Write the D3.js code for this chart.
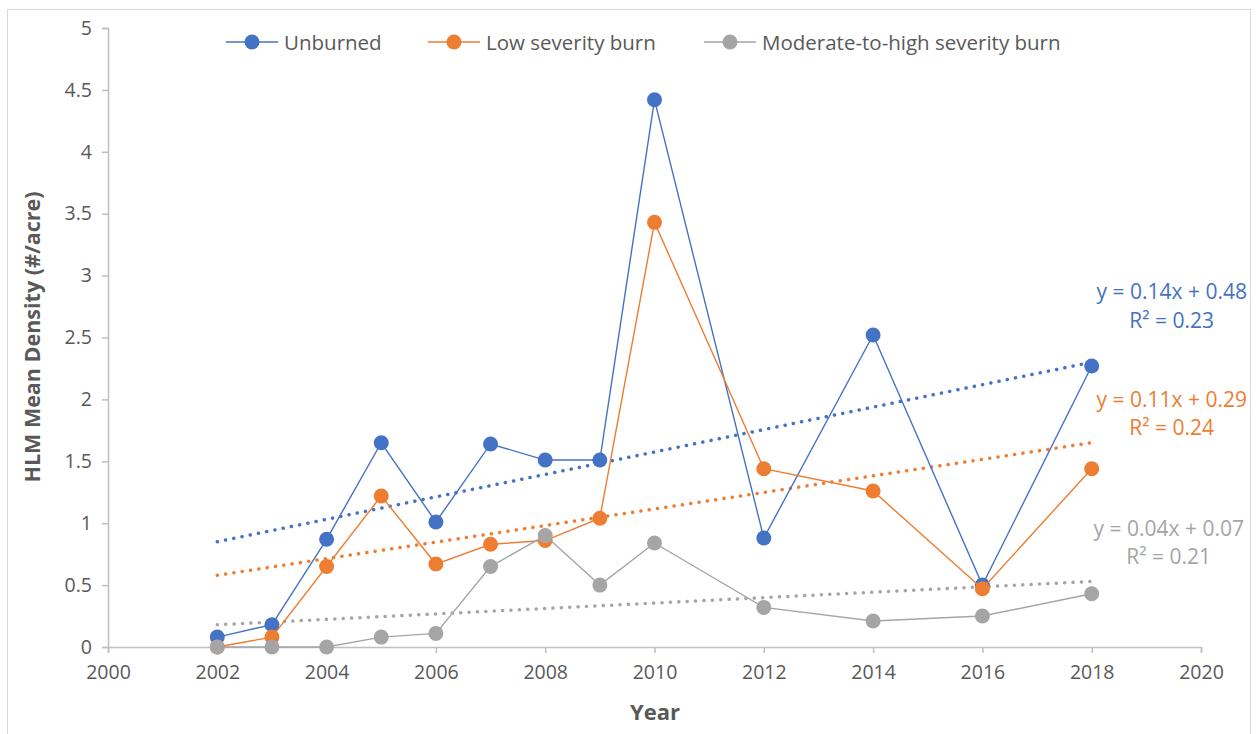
<!DOCTYPE html>
<html><head><meta charset="utf-8">
<script src="https://cdn.jsdelivr.net/npm/d3@7"></script>
<style>body{margin:0;background:#fff;} text{font-family:"Open Sans","Noto Sans",sans-serif;}</style>
</head><body><svg id="c" width="1257" height="734"></svg>
<script>
const years = [2002,2003,2004,2005,2006,2007,2008,2009,2010,2012,2014,2016,2018];
const unburned = [0.08,0.18,0.87,1.65,1.01,1.64,1.51,1.51,4.42,0.88,2.52,0.50,2.27];
const lowSev = [0.00,0.08,0.65,1.22,0.67,0.83,0.86,1.04,3.43,1.44,1.26,0.47,1.44];
const modHigh = [0.00,0.00,0.00,0.08,0.11,0.65,0.90,0.50,0.84,0.32,0.21,0.25,0.43];
const seriesNames = ["Unburned","Low severity burn","Moderate-to-high severity burn"];
const colors = ["#4472C4","#ED7D31","#A5A5A5"];
const trendStart = [0.85,0.58,0.18];
const trendEnd = [2.30,1.65,0.53];
const equations = ["y = 0.14x + 0.48","y = 0.11x + 0.29","y = 0.04x + 0.07"];
const rsq = ["R² = 0.23","R² = 0.24","R² = 0.21"];
const xTicks = [2000,2002,2004,2006,2008,2010,2012,2014,2016,2018,2020];
const yTicks = [0,0.5,1,1.5,2,2.5,3,3.5,4,4.5,5];

const svg = d3.select("#c");
svg.append("rect").attr("x",7.5).attr("y",9.5).attr("width",1243).attr("height",730)
  .attr("fill","#fff").attr("stroke","#D9D9D9");

const x = d3.scaleLinear().domain([2000,2020]).range([108,1201]);
const y = d3.scaleLinear().domain([0,5]).range([647,28]);
const axisCol = "#BFBFBF", textCol = "#595959";

const ya = svg.append("g").attr("transform","translate(108,0)")
  .call(d3.axisLeft(y).tickValues(yTicks).tickSize(6).tickPadding(10).tickFormat(d=>String(d)));
const xa = svg.append("g").attr("transform","translate(0,647)")
  .call(d3.axisBottom(x).tickValues(xTicks).tickSize(6).tickPadding(12).tickFormat(d3.format("d")));
[ya,xa].forEach(g=>{
  g.selectAll("path,line").attr("stroke",axisCol).attr("stroke-width",1.5);
  g.selectAll("text").attr("fill",textCol).attr("font-size",19.5);
});

const allSeries = [unburned,lowSev,modHigh];
allSeries.forEach((s,i)=>{
  svg.append("line")
    .attr("x1",x(years[0])).attr("y1",y(trendStart[i]))
    .attr("x2",x(years[years.length-1])).attr("y2",y(trendEnd[i]))
    .attr("stroke",colors[i]).attr("stroke-width",3.5)
    .attr("stroke-linecap","round").attr("stroke-dasharray","0.1 8.3");
});

const line = d3.line().x((d,j)=>x(years[j])).y(d=>y(d));
allSeries.forEach((s,i)=>{
  svg.append("path").datum(s).attr("d",line).attr("fill","none")
    .attr("stroke",colors[i]).attr("stroke-width",1.4);
  svg.append("g").selectAll("circle").data(s).join("circle")
    .attr("cx",(d,j)=>x(years[j])).attr("cy",d=>y(d)).attr("r",7.5)
    .attr("fill",colors[i]);
});

const eqY = [[292,321],[400,428],[529,557]];
const eqX = [1247,1247,1244];
allSeries.forEach((s,i)=>{
  const t = svg.append("text").attr("fill",colors[i]).attr("font-size",21).attr("text-anchor","end");
  t.append("tspan").attr("x",eqX[i]).attr("y",eqY[i][0]+7).text(equations[i]);
  t.append("tspan").attr("x",eqX[i]-33).attr("y",eqY[i][1]+7).text(rsq[i]);
});

const legX = [226,428,704];
seriesNames.forEach((n,i)=>{
  const g = svg.append("g").attr("transform",`translate(${legX[i]},42)`);
  g.append("line").attr("x1",0).attr("x2",52).attr("stroke",colors[i]).attr("stroke-width",1.4);
  g.append("circle").attr("cx",26).attr("r",7.5).attr("fill",colors[i]);
  g.append("text").attr("x",58).attr("y",7.5).attr("font-size",20.5).attr("fill",textCol).text(n);
});

svg.append("text").attr("x",655).attr("y",720).attr("text-anchor","middle")
  .attr("font-size",22).attr("font-weight","bold").attr("fill",textCol).text("Year");
svg.append("text").attr("transform","translate(40,337) rotate(-90)").attr("text-anchor","middle")
  .attr("font-size",21.5).attr("font-weight","bold").attr("fill",textCol).text("HLM Mean Density (#/acre)");
</script></body></html>
